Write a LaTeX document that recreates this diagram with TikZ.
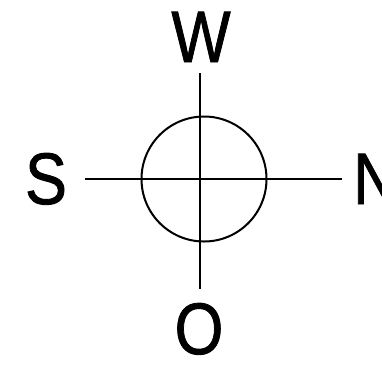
\documentclass[tikz,border=0pt]{standalone}
\usepackage{fontspec}
\setmainfont{Liberation Sans}[FakeBold=1.2, AutoFakeBold=1.2]
\usetikzlibrary{positioning}

\begin{document}
\begin{tikzpicture}[
    x=1pt, y=-1pt,
    ring/.style   = {draw, circle, line width=2pt, minimum size=125pt, inner sep=0pt},
    axis/.style   = {line width=2.2pt},
    compass/.style = {inner sep=0pt, anchor=base, xscale=0.86,
                      font=\fontsize{73}{73}\selectfont\bfseries},
]

% fixed canvas, y runs downwards like the sheet
\useasboundingbox (0,0) rectangle (382,370);

% --- the ring ----------------------------------------------------------
\node[ring] (rose) at (204,179) {};

% --- axis end points ---------------------------------------------------
\coordinate (wend) at (200,73);
\coordinate (oend) at (200,289);
\coordinate (send) at (85,179);
\coordinate (nend) at (342,179);

\draw[axis] (wend) -- (oend);
\draw[axis] (send) -- (nend);

% --- the four letters --------------------------------------------------
\node[compass] (west)  at (201,62)  {W};
\node[compass] (south) at (46,204)  {S};
\node[compass, anchor=base west] (north) at (353,204) {N};
\node[compass] (east)  at (199,354) {O};

\end{tikzpicture}
\end{document}
